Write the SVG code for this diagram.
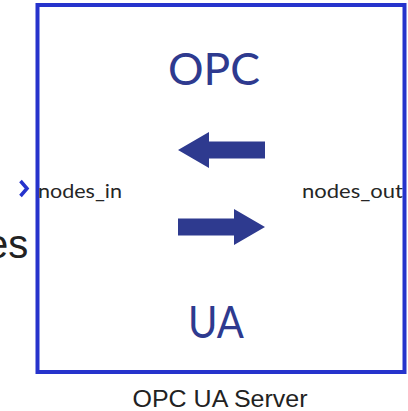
<svg xmlns="http://www.w3.org/2000/svg" width="408" height="411" viewBox="0 0 408 411">
  <defs>
    <style>
      .frame { fill: #ffffff; stroke: #2633cc; stroke-width: 4; }
      .title { font-family: "Lato", "Open Sans", sans-serif; font-size: 44px; fill: #2e3a8f; text-anchor: middle; }
      .port { font-family: "Lato", "Open Sans", sans-serif; font-size: 19px; fill: #262626; }
      .caption { font-family: "Liberation Sans", Arial, sans-serif; font-size: 24px; fill: #222222; text-anchor: middle; }
      .big { font-family: "Liberation Sans", Arial, sans-serif; font-size: 40px; fill: #222222; }
      .dir { fill: #2e3a8f; }
      .chev { fill: none; stroke: #2633cc; stroke-width: 3.5; stroke-linejoin: miter; }
    </style>
    <!-- arrow shape pointing right, origin at tip -->
    <path id="arrowR" d="M0,0 L-31,-18 L-31,-8.5 L-87,-8.5 L-87,8.5 L-31,8.5 L-31,18 Z"/>
  </defs>

  <!-- trailing label text partly outside the canvas -->
  <text class="big" x="-14" y="258">es</text>

  <g id="opc-ua-server">
    <rect class="frame" x="37.5" y="5" width="367" height="367"/>
    <text class="title" x="214" y="85" textLength="92" lengthAdjust="spacingAndGlyphs">OPC</text>
    <text class="title" x="216" y="338" textLength="56" lengthAdjust="spacingAndGlyphs">UA</text>
    <g id="direction-arrows">
      <use href="#arrowR" class="dir" transform="translate(178,150) scale(-1,1)"/>
      <use href="#arrowR" class="dir" transform="translate(265,227)"/>
    </g>
    <g id="port-in">
      <polyline class="chev" points="20.5,181 27,188.5 20.5,196"/>
      <text class="port" x="38" y="198" textLength="84" lengthAdjust="spacingAndGlyphs">nodes_in</text>
    </g>
    <g id="port-out">
      <text class="port" x="302" y="198" textLength="101" lengthAdjust="spacingAndGlyphs">nodes_out</text>
    </g>
  </g>

  <text class="caption" x="220" y="407" textLength="175" lengthAdjust="spacingAndGlyphs">OPC UA Server</text>
</svg>
